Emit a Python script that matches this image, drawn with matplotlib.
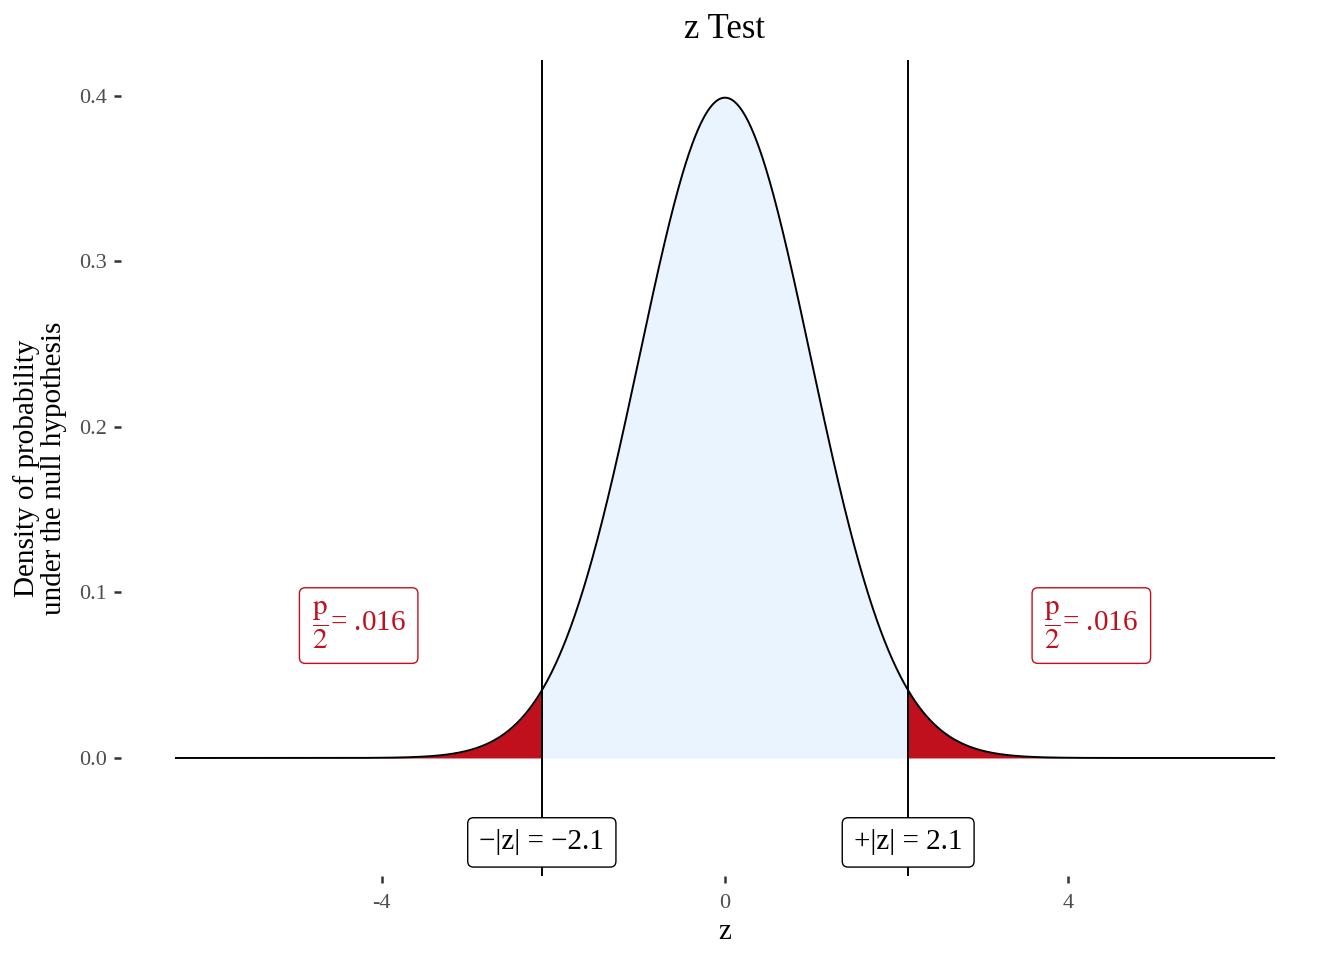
import numpy as np
import matplotlib
matplotlib.use("Agg")
import matplotlib.pyplot as plt

# data
z_obs = 2.135
x_range = [-6.4, 6.4]
xticks = [-4, 0, 4]
yticks = [0.0, 0.1, 0.2, 0.3, 0.4]
ytick_labels = ["0.0", "0.1", "0.2", "0.3", "0.4"]
p_half_label = r"$\dfrac{\mathrm{p}}{2}$= .016"
z_labels = ["\u2212|z| = \u22122.1", "+|z| = 2.1"]
p_label_x = [-4.27, 4.27]
p_label_y = 0.08
z_label_y = -0.051

plt.rcParams['font.family'] = ['Liberation Serif', 'DejaVu Serif']
plt.rcParams['mathtext.fontset'] = 'stix'

red = '#C0101E'
fill_blue = '#EAF4FE'

x = np.linspace(x_range[0], x_range[1], 2000)
dens = np.exp(-x**2 / 2) / np.sqrt(2 * np.pi)

fig = plt.figure(figsize=(13.44, 9.6), dpi=100)
ax = fig.add_axes([121/1344, 1 - 876/960, (1329-121)/1344, (876-60)/960])

mid = (x >= -z_obs) & (x <= z_obs)
ax.fill_between(x, 0, dens, where=mid, color=fill_blue, lw=0)
left = x <= -z_obs
right = x >= z_obs
ax.fill_between(x, 0, dens, where=left, color=red, lw=0)
ax.fill_between(x, 0, dens, where=right, color=red, lw=0)
ax.plot(x, dens, color='black', lw=1.4)
ax.axvline(-z_obs, color='black', lw=1.4, zorder=1)
ax.axvline(z_obs, color='black', lw=1.4, zorder=1)

for xl in p_label_x:
    ax.text(xl, p_label_y, p_half_label, color=red, fontsize=21, ha='center', va='center',
            bbox=dict(boxstyle='round,pad=0.42,rounding_size=0.2', fc='white', ec=red, lw=1))
for xl, lab in zip([-z_obs, z_obs], z_labels):
    ax.text(xl, z_label_y, lab, color='black', fontsize=21, ha='center', va='center',
            bbox=dict(boxstyle='round,pad=0.4,rounding_size=0.2', fc='white', ec='black', lw=1))

ax.set_xlim(-7.04, 7.04)
ax.set_ylim(-0.0713, 0.4217)
ax.set_xticks(xticks)
ax.set_xticklabels([str(t) for t in xticks])
ax.set_yticks(yticks)
ax.set_yticklabels(ytick_labels)
for s in ax.spines.values():
    s.set_visible(False)
ax.tick_params(axis='both', colors='#333333', labelcolor='#4D4D4D', labelsize=16, length=5, width=1.8)
ax.tick_params(axis='x', pad=8)
ax.tick_params(axis='y', pad=5)
ax.set_xlabel('z', fontsize=21, labelpad=4)
ax.set_ylabel('Density of probability\nunder the null hypothesis', fontsize=21, labelpad=9, linespacing=1.05)
ax.set_title('z Test', fontsize=25, pad=16)

fig.savefig('out.png', dpi=100)
